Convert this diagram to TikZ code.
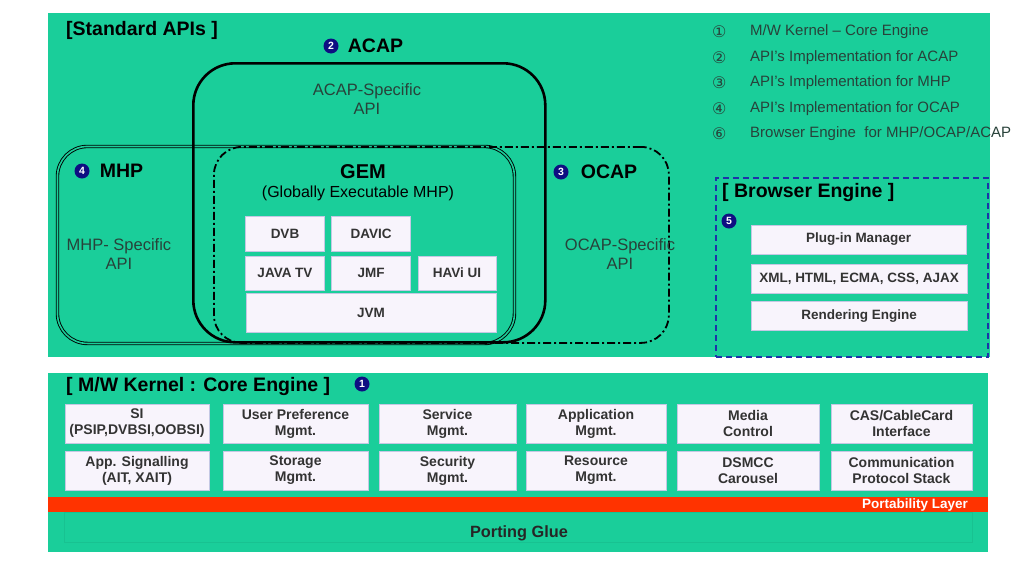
\documentclass[tikz,border=0pt]{standalone}
\usepackage{fontspec}
\setmainfont{Liberation Sans}
\newfontfamily\symfont{DejaVu Sans}
\usetikzlibrary{positioning}
\definecolor{panelgreen}{RGB}{26,206,154}
\definecolor{boxfill}{RGB}{248,244,252}
\definecolor{boxline}{RGB}{196,200,228}
\definecolor{badgeblue}{RGB}{14,14,130}
\definecolor{notegray}{RGB}{40,66,58}
\definecolor{portred}{RGB}{255,51,0}
\definecolor{browserblue}{RGB}{30,50,170}
\tikzset{
  panel/.style={fill=panelgreen, anchor=north west, inner sep=0},
  plate/.style={draw=boxline, fill=boxfill, line width=0.6, inner sep=0, align=center,
    text=black!80, font=\fontsize{13.5}{15.5}\selectfont\bfseries},
  kplate/.style={plate, font=\fontsize{14}{16}\selectfont\bfseries},
  badge/.style={circle, fill=badgeblue, text=white, inner sep=0, minimum size=15,
    font=\fontsize{10.5}{10.5}\selectfont\bfseries},
  heading/.style={inner sep=0, font=\fontsize{19.5}{22}\selectfont\bfseries},
  spec/.style={inner sep=0, align=center, text=notegray, font=\fontsize{16.5}{19}\selectfont},
  note/.style={inner sep=0, anchor=west, text=notegray, font=\fontsize{15}{17}\selectfont},
}
\begin{document}
\begin{tikzpicture}[x=1pt,y=-1pt]
\useasboundingbox[fill=white] (0,0) rectangle (1035,568);
% panels
\node[panel, minimum width=942, minimum height=344] (apis) at (48,13) {};
\node[panel, minimum width=940, minimum height=179] (kernel) at (48,373) {};
\node[panel, fill=portred, minimum width=940, minimum height=15] (portbar) at (48,497) {};
\node[draw=panelgreen!94!black, line width=0.6, anchor=north west, inner sep=0,
  minimum width=908, minimum height=30] (glue) at (64,512) {};

% standard APIs
\node[heading, anchor=west] (apistitle) at (66,30) {[Standard APIs ]};
\node[draw, line width=0.9, double=panelgreen, double distance=1.6, rounded corners=30,
  anchor=north west, minimum width=457, minimum height=197] (mhp) at (57,146) {};
\node[draw, line width=1.8, dash pattern=on 8pt off 3pt on 2pt off 3pt, rounded corners=28,
  anchor=north west, minimum width=455, minimum height=196] (ocap) at (213,146) {};
\node[draw, line width=2.6, rounded corners=42,
  anchor=north west, minimum width=352, minimum height=279] (acap) at (192,62) {};

\node[badge] (b2) at (331,46) {2};
\node[heading, right=9pt of b2] (acaptitle) {ACAP};
\node[badge] (b4) at (82,171) {4};
\node[heading, right=10pt of b4] (mhptitle) {MHP};
\node[badge] (b3) at (561,172) {3};
\node[heading, right=12pt of b3] (ocaptitle) {OCAP};

\node[spec] (acapapi) at (367,99) {ACAP-Specific\\API};
\node[spec] (mhpapi) at (119,254) {MHP- Specific\\API};
\node[spec] (ocapapi) at (620,254) {OCAP-Specific\\API};

% GEM
\node[heading, font=\fontsize{20}{22}\selectfont\bfseries] (gem) at (363,172) {GEM};
\node[inner sep=0, font=\fontsize{16}{18}\selectfont] (gemfull) at (358,193) {(Globally Executable MHP)};
\node[plate, minimum width=79, minimum height=35] (dvb) at (285,233.5) {DVB};
\node[plate, minimum width=79, minimum height=35] (davic) at (371,233.5) {DAVIC};
\node[plate, minimum width=79, minimum height=34] (javatv) at (285,273) {JAVA TV};
\node[plate, minimum width=79, minimum height=34] (jmf) at (371,273) {JMF};
\node[plate, minimum width=78, minimum height=34] (havi) at (457,273) {HAVi UI};
\node[plate, minimum width=250, minimum height=39] (jvm) at (371,312.5) {JVM};

% legend
\foreach \y/\sym/\txt in {32/{①}/{M/W Kernel – Core Engine},
    57.5/{②}/{API’s Implementation for ACAP},
    83/{③}/{API’s Implementation for MHP},
    108.5/{④}/{API’s Implementation for OCAP},
    134/{⑥}/{Browser Engine \ for MHP/OCAP/ACAP}}{
  \node[note, font=\symfont\fontsize{16}{18}\selectfont] at (712,\y) {\sym};
  \node[note] at (750,\y) {\txt};
}

% browser engine
\node[draw=browserblue, line width=1.5, dash pattern=on 6pt off 4pt, anchor=north west,
  minimum width=272, minimum height=179] (browser) at (715,177) {};
\node[heading, anchor=west] (browsertitle) at (722,192) {[ Browser Engine ]};
\node[badge] (b5) at (729,221) {5};
\node[plate, minimum width=215, minimum height=29] (plugin) at (858.5,239.5) {Plug-in Manager};
\node[plate, minimum width=216, minimum height=29] (markup) at (859,278.5) {XML, HTML, ECMA, CSS, AJAX};
\node[plate, minimum width=216, minimum height=29] (render) at (859,316) {Rendering Engine};

% M/W kernel
\node[heading, anchor=west] (kerneltitle) at (66,386) {[ M/W Kernel : Core Engine ]};
\node[badge] (b1) at (362,384) {1};
\node[kplate, minimum width=144, minimum height=39] (si) at (137,423.5) {SI\\(PSIP,DVBSI,OOBSI)};
\node[kplate, minimum width=145, minimum height=39] (userpref) at (295.5,423.5) {User Preference\\Mgmt.};
\node[kplate, minimum width=137, minimum height=39] (service) at (447.5,423.5) {Service\\Mgmt.};
\node[kplate, minimum width=140, minimum height=39] (appmgmt) at (596,423.5) {Application\\Mgmt.};
\node[kplate, minimum width=142, minimum height=39] (media) at (748,423.5) {Media\\Control};
\node[kplate, minimum width=141, minimum height=39] (cas) at (901.5,423.5) {CAS/CableCard\\Interface};
\node[kplate, minimum width=144, minimum height=39] (appsig) at (137,470.5) {App. Signalling\\(AIT, XAIT)};
\node[kplate, minimum width=145, minimum height=39] (storage) at (295.5,470.5) {Storage\\Mgmt.};
\node[kplate, minimum width=137, minimum height=39] (security) at (447.5,470.5) {Security\\Mgmt.};
\node[kplate, minimum width=140, minimum height=39] (resource) at (596,470.5) {Resource\\Mgmt.};
\node[kplate, minimum width=142, minimum height=39] (dsmcc) at (748,470.5) {DSMCC\\Carousel};
\node[kplate, minimum width=141, minimum height=39] (comm) at (901.5,470.5) {Communication\\Protocol Stack};

% porting layer
\node[inner sep=0, anchor=east, text=white, font=\fontsize{13.5}{15}\selectfont\bfseries] (portlabel) at (968,505) {Portability Layer};
\node[inner sep=0, text=black!85, font=\fontsize{16.3}{18}\selectfont\bfseries] (glueLabel) at (519,533) {Porting Glue};
\end{tikzpicture}
\end{document}
